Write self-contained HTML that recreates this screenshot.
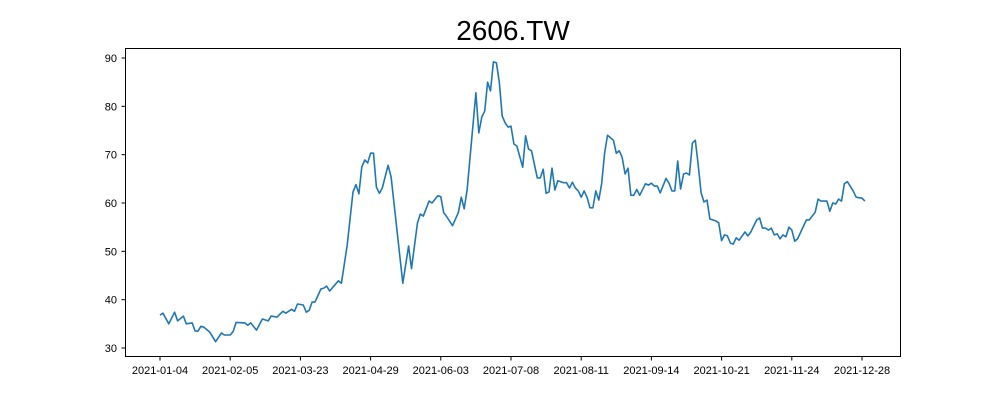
<!DOCTYPE html>
<html><head><meta charset="utf-8"><style>
body{margin:0;background:#fff;}
svg text{font-family:"Liberation Sans","DejaVu Sans",sans-serif;fill:#000;}
</style></head><body>
<svg id="chart" width="1000" height="400" viewBox="0 0 1000 400" xmlns="http://www.w3.org/2000/svg">
<rect width="1000" height="400" fill="#fff"/>
<text x="513" y="40" font-size="28" text-anchor="middle">2606.TW</text>
<g id="yaxis"></g>
<g id="xaxis"></g>
<path id="line" fill="none" stroke="#1f77b4" stroke-width="1.6" stroke-linejoin="round"/>
<rect x="125.5" y="48.5" width="775" height="308" fill="none" stroke="#000" stroke-width="1"/>
</svg>
<script>
const dayIndex=[0,1,3,5,6,8,9,11,12,13,14,15,17,19,21,22,24,25,26,29,30,31,33,35,37,38,40,42,43,45,46,47,49,50,51,52,53,55,56,57,58,60,61,62,64,66,67,68,69,70,71,72,73,74,75,76,78,79,83,85,86,88,89,90,92,93,95,96,97,98,100,102,103,104,105,108,109,110,111,112,113,114,115,116,117,118,119,120,121,122,124,125,126,127,129,130,131,132,133,134,135,136,138,139,140,141,142,143,144,145,146,147,148,149,150,151,152,153,155,156,157,158,159,160,161,162,163,164,166,167,168,169,170,171,173,174,175,176,177,178,179,180,181,182,183,184,185,186,187,188,190,191,192,193,194,195,196,197,198,200,201,202,204,205,206,207,208,209,210,211,212,213,214,215,216,217,218,221,222,224,225,226,228,229,230,231,232,233,234,235,237,238,240,241];
const prices=[36.8,37.2,35,37.4,35.6,36.6,35,35.2,33.5,33.5,34.5,34.3,33.3,31.3,33.1,32.7,32.7,33.4,35.3,35.2,34.7,35.2,33.7,36,35.6,36.6,36.4,37.6,37.2,38,37.6,39.1,38.9,37.4,37.8,39.5,39.5,42.2,42.4,42.8,41.8,43.2,43.9,43.4,51.3,62.3,63.8,61.9,67.5,68.9,68.3,70.3,70.3,63.3,62,63.1,67.8,65.4,43.4,51.1,46.4,55.8,57.7,57.3,60.4,60,61.5,61.3,58,57.2,55.3,58,61.2,58.8,62.7,82.8,74.5,77.8,79,85,83.2,89.2,89,85,78,76.6,75.7,75.9,72.2,71.8,67.4,73.9,71.2,70.8,65.2,65.2,67,62,62.3,67.2,62.7,64.6,64.2,64.2,63.1,64.3,63.1,62.5,61.2,62.5,61.2,59,59,62.5,60.6,64.1,70.3,74,73,70.3,70.8,69.5,66,67.2,61.6,61.6,62.8,61.6,64,63.7,64.1,63.5,63.5,62.1,65.1,64.1,62.5,62.5,68.7,62.9,66,66.2,65.8,72.4,73,67.9,62.1,60.2,60.6,56.7,56.3,55.9,52.2,53.4,53.2,51.7,51.5,52.8,52.3,54,53.2,54,56.5,56.9,54.8,54.8,54.4,54.8,53.4,53.6,52.6,53.4,53,55,54.4,52.1,52.6,56.5,56.5,58.1,60.8,60.4,60.4,58.3,60,59.8,60.8,60.4,64,64.4,62.5,61.2,61,60.4];
const xTickIndex=[0,24,48,72,96,120,144,168,192,216,240];
const xTickLabels=["2021-01-04","2021-02-05","2021-03-23","2021-04-29","2021-06-03","2021-07-08","2021-08-11","2021-09-14","2021-10-21","2021-11-24","2021-12-28"];
const yTicks=[30,40,50,60,70,80,90];

const NS="http://www.w3.org/2000/svg";
const xs=i=>160+i*2.925;
const ys=v=>348-(v-30)*4.8333;
const ya=document.getElementById('yaxis'), xa=document.getElementById('xaxis');
yTicks.forEach(v=>{
  const y=ys(v);
  const l=document.createElementNS(NS,'line');
  
  
  l.setAttribute('x1',121.5);l.setAttribute('x2',125.5);l.setAttribute('y1',y);l.setAttribute('y2',y);l.setAttribute('stroke','#000');
  ya.appendChild(l);
  const t=document.createElementNS(NS,'text');
  
  
  t.setAttribute('x',117);t.setAttribute('y',y+4);t.setAttribute('font-size','11');t.setAttribute('text-anchor','end');
  t.textContent=v;ya.appendChild(t);
});
xTickIndex.forEach((d,k)=>{
  const x=xs(d);
  const l=document.createElementNS(NS,'line');
  
  
  l.setAttribute('x1',x);l.setAttribute('x2',x);l.setAttribute('y1',356.5);l.setAttribute('y2',360.5);l.setAttribute('stroke','#000');
  xa.appendChild(l);
  const t=document.createElementNS(NS,'text');
  
  
  t.setAttribute('x',x);t.setAttribute('y',374);t.setAttribute('font-size','11');t.setAttribute('text-anchor','middle');
  t.textContent=xTickLabels[k];xa.appendChild(t);
});
document.getElementById('line').setAttribute('d',prices.map((v,i)=>(i?'L':'M')+xs(dayIndex[i]).toFixed(1)+','+ys(v).toFixed(1)).join(''));
</script>
</body></html>
